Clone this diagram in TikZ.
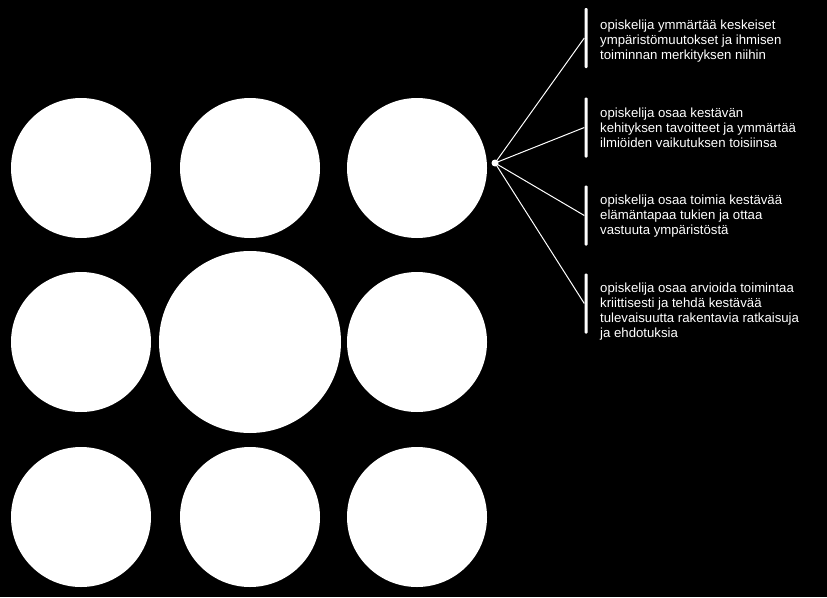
\documentclass[tikz,border=0pt]{standalone}
\usepackage{fontspec}
\setmainfont{Liberation Sans}
\begin{document}
\begin{tikzpicture}[x=1pt,y=-1pt,
  bigdot/.style={circle,fill=white,draw=none,inner sep=0pt,minimum size=#1},
  smalldot/.style={circle,fill=white,draw=none,inner sep=0pt,minimum size=7pt},
  barbox/.style={rectangle,fill=white,draw=none,inner sep=0pt,minimum width=3pt,minimum height=60pt,rounded corners=1pt},
  link/.style={draw=white,line width=1pt},
  goaltext/.style={anchor=north west,align=left,inner sep=0pt,text=white,font=\fontsize{13.2}{15.2}\selectfont}]
\fill[black] (0,0) rectangle (827,597);
\useasboundingbox (0,0) rectangle (827,597);
% circles
\node[bigdot=140pt] (c11) at (81,168) {};
\node[bigdot=140pt] (c12) at (250,168) {};
\node[bigdot=140pt] (c13) at (417,168) {};
\node[bigdot=140pt] (c21) at (81,342) {};
\node[bigdot=182pt] (c22) at (250,342) {};
\node[bigdot=140pt] (c23) at (417,342) {};
\node[bigdot=140pt] (c31) at (81,517) {};
\node[bigdot=140pt] (c32) at (250,517) {};
\node[bigdot=140pt] (c33) at (417,517) {};
% hub
\node[smalldot] (hub) at (495,163) {};
% bars
\node[barbox] (b1) at (586,38) {};
\node[barbox] (b2) at (586,127.5) {};
\node[barbox] (b3) at (586,215.5) {};
\node[barbox] (b4) at (586,303.5) {};
% connectors
\draw[link] (hub.center) -- (b1.west);
\draw[link] (hub.center) -- (b2.west);
\draw[link] (hub.center) -- (b3.west);
\draw[link] (hub.center) -- (b4.west);
% texts
\node[goaltext] (t1) at (600,19.4) {opiskelija ymmärtää keskeiset\\ympäristömuutokset ja ihmisen\\toiminnan merkityksen niihin};
\node[goaltext] (t2) at (600,107.4) {opiskelija osaa kestävän\\kehityksen tavoitteet ja ymmärtää\\ilmiöiden vaikutuksen toisiinsa};
\node[goaltext] (t3) at (600,194.4) {opiskelija osaa toimia kestävää\\elämäntapaa tukien ja ottaa\\vastuuta ympäristöstä};
\node[goaltext] (t4) at (600,282.4) {opiskelija osaa arvioida toimintaa\\kriittisesti ja tehdä kestävää\\tulevaisuutta rakentavia ratkaisuja\\ja ehdotuksia};
\end{tikzpicture}
\end{document}
